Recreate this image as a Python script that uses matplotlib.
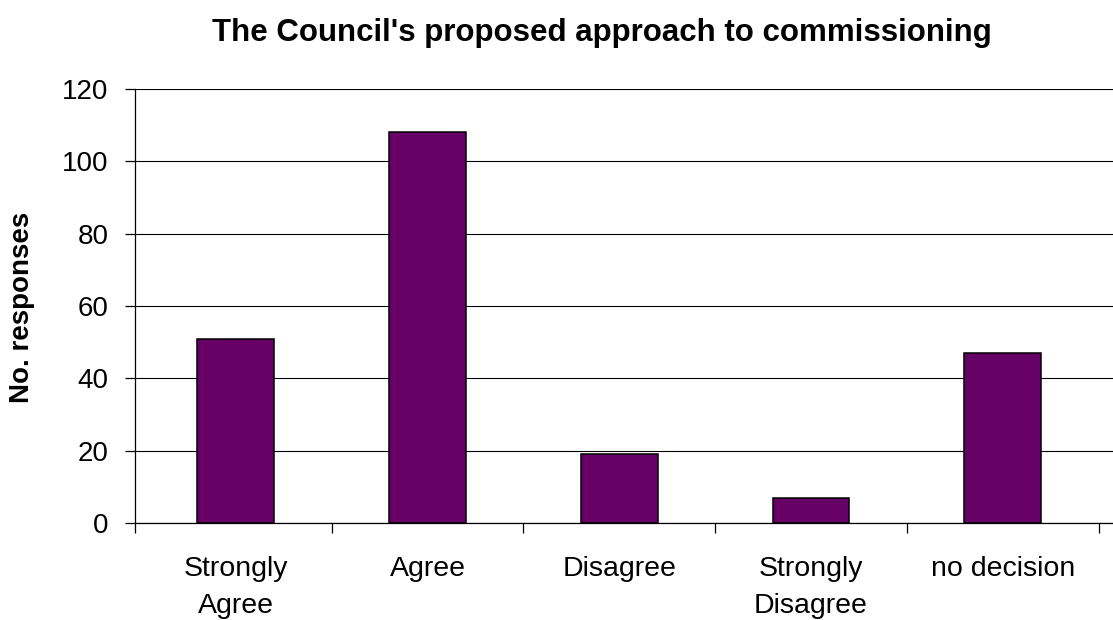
import numpy as np
import matplotlib.pyplot as plt
from matplotlib.ticker import FixedLocator

plt.rcParams['font.family'] = ['Liberation Sans', 'DejaVu Sans']

# 回答数据
categories = ["Strongly\nAgree", "Agree", "Disagree", "Strongly\nDisagree", "no decision"]
responses = [51, 108, 19, 7, 47]
y_ticks = [0, 20, 40, 60, 80, 100, 120]

fig = plt.figure(figsize=(11.13, 6.2), dpi=100)
ax = fig.add_axes([135 / 1113, 97 / 620, 1 - 135 / 1113, 434 / 620])

x = np.arange(len(categories))
ax.bar(x, responses, width=0.40, color="#660066", edgecolor="black", linewidth=1.1, zorder=3)

# 坐标轴范围和网格
x_left = -0.525
ax.set_xlim(x_left, 4.575)
ax.set_ylim(0, 120)
ax.set_yticks(y_ticks)
ax.yaxis.grid(True, color="black", linewidth=0.8, zorder=0)
ax.set_axisbelow(True)

ax.spines["top"].set_visible(False)
ax.spines["right"].set_visible(False)
ax.spines["left"].set_linewidth(0.9)
ax.spines["bottom"].set_linewidth(0.9)

# x轴：标签在类别中心，刻度线在类别分界处
ax.set_xticks(x)
ax.set_xticklabels(categories, fontsize=20.5, va="top", linespacing=1.55)
ax.tick_params(axis="x", which="major", length=0, pad=24)
ax.xaxis.set_minor_locator(FixedLocator([x_left] + list(np.arange(0.5, 4.6, 1.0))))
ax.tick_params(axis="x", which="minor", length=7, width=0.9, direction="out")

ax.tick_params(axis="y", labelsize=20, length=7, width=0.9, pad=12)

# 纵轴标题和图题
fig.text(22.5 / 1113, 0.504, "No. responses", rotation=90, ha="center", va="center",
         fontsize=20, fontweight="bold")
fig.text(602 / 1113, (620 - 41) / 620, "The Council's proposed approach to commissioning",
         ha="center", va="baseline", fontsize=22.5, fontweight="bold")

plt.savefig("out.png", dpi=100)
